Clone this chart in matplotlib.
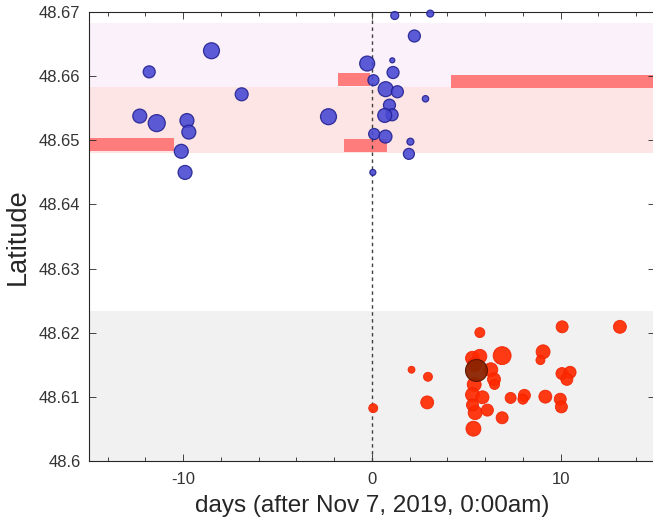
import matplotlib
matplotlib.use("Agg")
import matplotlib.pyplot as plt
import numpy as np

plt.rcParams['font.family'] = ['Liberation Sans', 'DejaVu Sans']

# ---- data -------------------------------------------------------------
# northern cluster (blue): day, latitude, marker area
blue_day = [-12.3, -11.8, -11.4, -9.8, -9.7, -10.1, -9.9, -8.5, -6.9, -2.3,
            -0.25, 0.08, 0.12, 0.05, 1.21, 3.09, 2.25, 1.08, 1.12, 0.73,
            1.35, 2.84, 0.93, 1.07, 0.68, 0.72, 2.04, 1.96]
blue_lat = [48.6538, 48.6607, 48.6527, 48.6531, 48.6513, 48.6483, 48.6450,
            48.6640, 48.6572, 48.6537, 48.6620, 48.6594, 48.6510, 48.6450,
            48.6695, 48.6698, 48.6663, 48.6625, 48.6606, 48.6580, 48.6576,
            48.6565, 48.6555, 48.6540, 48.6539, 48.6506, 48.6498, 48.6479]
blue_area = [101, 75, 150, 101, 101, 101, 101, 132, 87, 132,
             116, 63, 63, 19, 33, 25, 75, 13, 75, 116,
             75, 21, 75, 75, 101, 87, 25, 63]

# southern cluster (red): day, latitude, marker area
red_day = [0.07, 2.1, 2.97, 2.93, 5.72, 10.08, 13.14, 6.9, 9.07, 8.93,
           5.33, 5.72, 6.3, 6.47, 5.42, 5.33, 5.86, 7.35, 8.08, 8.0,
           9.19, 9.98, 10.04, 10.07, 10.5, 10.33, 5.47, 6.12, 6.9, 5.38,
           5.33, 6.5, 5.45]
red_lat = [48.6082, 48.6142, 48.6131, 48.6091, 48.6200, 48.6209, 48.6209,
           48.6164, 48.6170, 48.6157, 48.6160, 48.6163, 48.6142, 48.6127,
           48.6119, 48.6103, 48.6099, 48.6098, 48.6102, 48.6096, 48.6100,
           48.6096, 48.6084, 48.6136, 48.6138, 48.6127, 48.6075, 48.6079,
           48.6067, 48.6050, 48.6087, 48.6119, 48.6150]
red_area = [42, 25, 42, 87, 52, 75, 87, 168, 101, 42,
            101, 101, 101, 87, 101, 101, 87, 63, 75, 52,
            87, 75, 75, 75, 75, 75, 101, 75, 75, 116,
            75, 52, 101]

# main event
main_day = [5.54]
main_lat = [48.6142]
main_area = [250]

# station occupation intervals: start day, end day, latitude
bar_start = [-15.0, -1.8, -1.5, 4.2]
bar_end = [-10.5, -0.1, 0.8, 15.0]
bar_lat = [48.6493, 48.6595, 48.6492, 48.6592]

# shaded latitude bands: lower, upper
band_lo = [48.6583, 48.6481, 48.6000]
band_hi = [48.6683, 48.6583, 48.6234]
band_col = ['#fbf1fb', '#fde4e5', '#f1f1f1']

xlim = (-15, 15)
ylim = (48.60, 48.67)
yticks = [48.60, 48.61, 48.62, 48.63, 48.64, 48.65, 48.66, 48.67]
ytick_labels = ['48.6', '48.61', '48.62', '48.63', '48.64', '48.65', '48.66', '48.67']
xticks = [-10, 0, 10]
xtick_labels = ['-10', '0', '10']

# ---- figure -----------------------------------------------------------
W, H = 653, 524
fig = plt.figure(figsize=(W / 100, H / 100), dpi=100)
ax = fig.add_axes([88.8 / W, 63.3 / H, 566.2 / W, 448.4 / H])

for lo, hi, c in zip(band_lo, band_hi, band_col):
    ax.axhspan(lo, hi, color=c, lw=0, zorder=0)

widths = np.array(bar_end) - np.array(bar_start)
ax.barh(bar_lat, widths, left=bar_start, height=0.002, color='#ff7c7c',
        lw=0, zorder=1)

ax.axvline(0, color='#404040', lw=1.0, ls=(0, (2.5, 2.5)), zorder=2)

ax.scatter(blue_day, blue_lat, s=blue_area, c='#4646d2', edgecolors='#20208f',
           linewidths=0.9, alpha=0.88, zorder=3, clip_on=False)
ax.scatter(red_day, red_lat, s=red_area, c='#ff2a00', edgecolors='#f02000',
           linewidths=0.6, alpha=0.92, zorder=3, clip_on=False)
ax.scatter(main_day, main_lat, s=main_area, c='#8c2300', edgecolors='#5a1500',
           linewidths=0.8, alpha=0.95, zorder=4, clip_on=False)

ax.set_xlim(*xlim)
ax.set_ylim(*ylim)
ax.set_yticks(yticks)
ax.set_yticklabels(ytick_labels)
ax.set_xticks(xticks)
ax.set_xticklabels(xtick_labels)
ax.set_xticks(np.arange(-14, 15, 2), minor=True)

axis_col = '#262626'
for sp in ax.spines.values():
    sp.set_color(axis_col)
    sp.set_linewidth(0.8)
ax.tick_params(axis='both', which='both', direction='in', top=True, right=True,
               color=axis_col, labelcolor='#333333', labelsize=12, width=0.6)
ax.tick_params(axis='both', which='major', length=5)
ax.tick_params(axis='x', which='minor', length=3)
ax.tick_params(axis='x', which='major', pad=8)
ax.tick_params(axis='y', which='major', pad=6)

ax.set_xlabel('days (after Nov 7, 2019, 0:00am)', fontsize=17.5, color='#262626',
              labelpad=6)
ax.set_ylabel('Latitude', fontsize=19.5, color='#262626', labelpad=6)

fig.savefig('out.png', dpi=100)
